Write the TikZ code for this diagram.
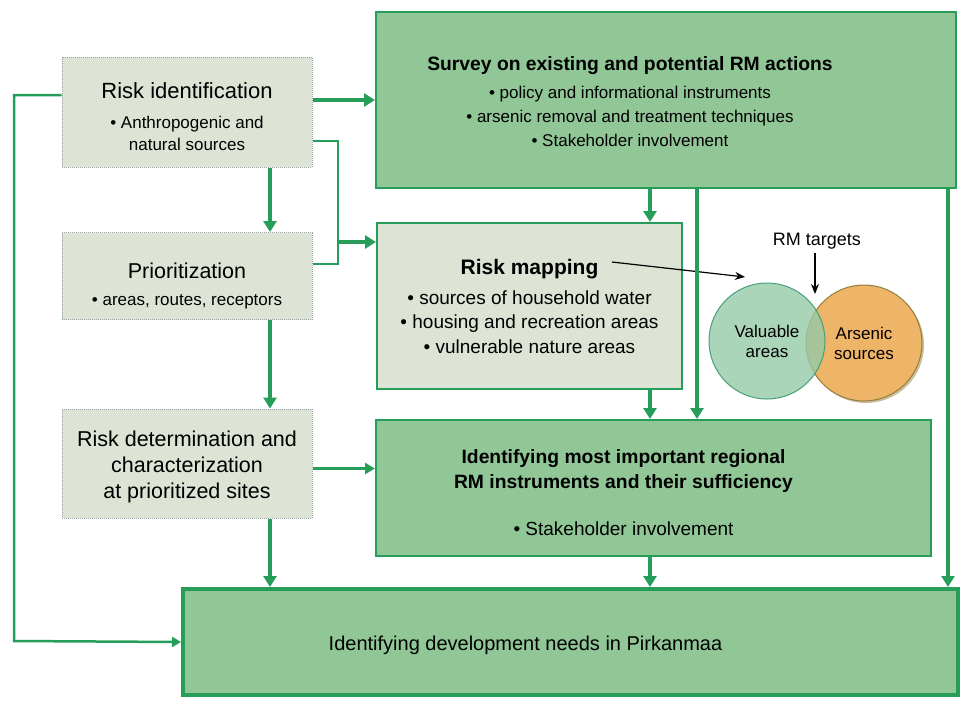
\documentclass[tikz,border=0pt]{standalone}
\usepackage{fontspec}
\setmainfont{Liberation Sans}
\usetikzlibrary{positioning, arrows.meta, calc, shadows}
\definecolor{rmgreen}{RGB}{38,158,90}
\definecolor{midgreen}{RGB}{145,199,151}
\definecolor{palegrey}{RGB}{221,228,214}
\definecolor{dotgrey}{RGB}{150,165,160}
\definecolor{vennorange}{RGB}{238,180,104}
\definecolor{vennedge}{RGB}{150,125,60}
\definecolor{venngreen}{RGB}{150,202,168}
\definecolor{venndark}{RGB}{70,160,120}
\newcommand{\fs}[2]{\fontsize{#1}{#2}\selectfont}
\tikzset{
    stepbox/.style={draw=dotgrey, densely dotted, fill=palegrey, line width=1pt, align=center, minimum width=250pt},
    mapbox/.style={draw=rmgreen, line width=2pt, fill=palegrey, align=center},
    actbox/.style={draw=rmgreen, line width=2pt, fill=midgreen, align=center},
    boxtext/.style={align=center, inner sep=0pt},
    flow/.style={draw=rmgreen, line width=4pt, -{Triangle[length=11pt, width=13pt]}},
    midflow/.style={draw=rmgreen, line width=3pt, -{Triangle[length=10pt, width=11pt]}},
    thinflow/.style={draw=rmgreen, line width=2.5pt, -{Triangle[length=9pt, width=10pt]}},
    thinline/.style={draw=rmgreen, line width=2pt},
    pointer/.style={draw=black, line width=1.2pt, -{Stealth[length=10pt, width=8pt]}},
    venn/.style={circle, minimum size=116pt, align=center, font=\fs{17}{20}}
}

\begin{document}
\begin{tikzpicture}[x=1pt, y=-1pt]
    \useasboundingbox (0,0) rectangle (967,705);

    % --- Left column ---
    \node (riskid) [stepbox, minimum height=110pt, font=\fs{17}{22}] at (187,112)
        {\rule{0pt}{26pt}{\fs{22}{26}Risk identification}\\[8pt]\textbullet\ Anthropogenic and\\natural sources};
    \node (prio) [stepbox, minimum height=87pt, font=\fs{17}{22}] at (187,276)
        {\rule{0pt}{36pt}{\fs{21.5}{27}Prioritization}\\[5pt]\textbullet\ areas, routes, receptors};
    \node (riskdet) [stepbox, minimum height=109pt, font=\fs{21.5}{26}] at (187,463.5)
        {\rule{0pt}{23pt}Risk determination and\\characterization\\at prioritized sites};

    % --- Right column ---
    \node (survey) [actbox, minimum width=580pt, minimum height=176pt] at (666,100) {};
    \node (surveytext) [boxtext, font=\fs{17}{24}] at ([xshift=-36pt, yshift=-2pt]survey.center)
        {{\fs{19.3}{28}\bfseries Survey on existing and potential RM actions}\\[4pt]\textbullet\ policy and informational instruments\\\textbullet\ arsenic removal and treatment techniques\\\textbullet\ Stakeholder involvement};
    \node (mapping) [mapbox, minimum width=305pt, minimum height=166pt, font=\fs{19}{24.5}] at (529.5,306)
        {{\fs{21}{30}\bfseries Risk mapping}\\[5.5pt]\textbullet\ sources of household water\\\textbullet\ housing and recreation areas\\\textbullet\ vulnerable nature areas};
    \node (ident) [actbox, minimum width=555pt, minimum height=136pt] at (653.5,488) {};
    \node (identtext) [boxtext, font=\fs{19}{25}] at ([xshift=-30pt, yshift=-5pt]ident.center)
        {{\fs{19.3}{25}\bfseries Identifying most important regional}\\{\fs{19.3}{25}\bfseries RM instruments and their sufficiency}\\[22pt]\textbullet\ Stakeholder involvement};
    \node (needs) [actbox, line width=4pt, minimum width=775pt, minimum height=106pt] at (570.5,642) {};
    \node (needstext) [boxtext, font=\fs{20}{24}] at ([xshift=-45pt, yshift=-3pt]needs.center)
        {Identifying development needs in Pirkanmaa};

    % --- Venn diagram ---
    \node (arsenic) [venn, draw=vennedge, fill=vennorange, line width=1pt,
        drop shadow={shadow xshift=2pt, shadow yshift=-2pt, fill=vennedge, opacity=0.5}] at (864,343) {Arsenic\\sources};
    \node (valuable) [venn, draw=venndark, fill=venngreen, line width=1pt, fill opacity=0.8, text opacity=1] at (767,341) {Valuable\\areas};
    \node (targets) [font=\fs{18}{20}] at (817,241) {RM targets};
    \coordinate (overlap) at (815,294);
    \coordinate (maptitle) at (612,262);
    \coordinate (venntip) at (745,277);
    \draw[pointer] (targets.south -| overlap) -- (overlap);
    \draw[pointer] (maptitle) -- (venntip);

    % --- Connectors ---
    \coordinate (spine) at (270,0);
    \coordinate (col1) at (650,0);
    \coordinate (col2) at (697,0);
    \coordinate (col3) at (948,0);
    \coordinate (join) at (338,242);
    \coordinate (loop) at (14,641);

    \draw[flow] (riskid.east |- survey.west) -- (survey.west);
    \draw[flow] (riskid.south -| spine) -- (prio.north -| spine);
    \draw[flow] (prio.south -| spine) -- (riskdet.north -| spine);
    \draw[flow] (riskdet.south -| spine) -- (needs.north -| spine);
    \draw[thinline] ([yshift=-29pt]riskid.east) -| (join) |- ([yshift=12pt]prio.east);
    \draw[flow] (join) -- (join -| mapping.west);
    \draw[midflow] ([yshift=-5pt]riskdet.east) -- ([yshift=-5pt]riskdet.east -| ident.west);
    \draw[thinflow] ([yshift=17pt]riskid.west) -| (loop) -- (needs.west);

    \draw[flow] (survey.south -| col1) -- (mapping.north -| col1);
    \draw[flow] (survey.south -| col2) -- (ident.north -| col2);
    \draw[flow] (survey.south -| col3) -- (needs.north -| col3);
    \draw[flow] (mapping.south -| col1) -- (ident.north -| col1);
    \draw[flow] (ident.south -| col1) -- (needs.north -| col1);
\end{tikzpicture}
\end{document}
